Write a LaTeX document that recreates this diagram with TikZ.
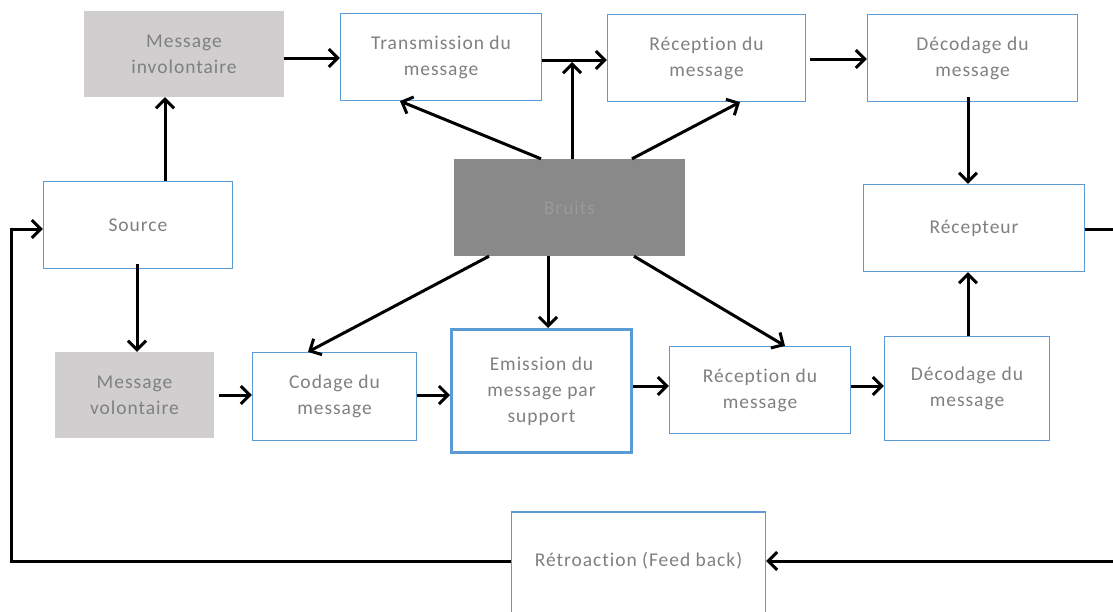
\documentclass[tikz,border=0pt]{standalone}
\usepackage{fontspec}
\setmainfont[LetterSpace=5,Ligatures=NoCommon]{Carlito}
\usetikzlibrary{arrows.meta}
\definecolor{bblue}{HTML}{5B9BD5}
\definecolor{lgray}{HTML}{D0CECE}
\definecolor{dgray}{HTML}{898989}
\definecolor{tgray}{HTML}{808080}
\definecolor{btgray}{HTML}{9A9A9A}
\begin{document}
\begin{tikzpicture}[x=1pt,y=-1pt,
  every node/.style={font=\fontsize{19.5}{26}\selectfont, text=tgray, align=center, inner sep=0pt},
  bluebox/.style={draw=bblue, line width=1.2pt, fill=white},
  thickbox/.style={draw=bblue, line width=3pt, fill=white},
  graybox/.style={fill=lgray},
  noisebox/.style={fill=dgray, text=btgray},
  arr/.style={line width=3pt, -{Straight Barb[length=9pt,width=18pt]}}]
\useasboundingbox (0,0) rectangle (1113,611);
\clip (0,0) rectangle (1113,611);
% nodes
\node[graybox, minimum width=200pt, minimum height=86pt] (minv) at (184,54) {Message\\involontaire};
\node[bluebox, minimum width=201pt, minimum height=87pt] (trans) at (441,57) {Transmission du\\message};
\node[bluebox, minimum width=198pt, minimum height=87pt] (rec1) at (706.5,58) {Réception du\\message};
\node[bluebox, minimum width=210pt, minimum height=87pt] (dec1) at (972.5,58) {Décodage du\\message};
\node[bluebox, minimum width=221pt, minimum height=87pt] (recept) at (974,228) {Récepteur};
\node[bluebox, minimum width=189pt, minimum height=87pt] (src) at (138,225) {Source};
\node[noisebox, minimum width=231pt, minimum height=97pt] (bruits) at (569.5,207.5) {Bruits};
\node[graybox, minimum width=159pt, minimum height=86pt] (mvol) at (134.5,395) {Message\\volontaire};
\node[bluebox, minimum width=164pt, minimum height=88pt] (codage) at (334.5,396.5) {Codage du\\message};
\node[thickbox, minimum width=180pt, minimum height=123pt] (emis) at (541.5,391) {Emission du\\message par\\support};
\node[bluebox, minimum width=181pt, minimum height=87pt] (rec2) at (760,390) {Réception du\\message};
\node[bluebox, minimum width=165pt, minimum height=104pt] (dec2) at (967,388.5) {Décodage du\\message};
\node[bluebox, minimum width=254pt, minimum height=110pt] (retro) at (638.5,567) {};
\node (retrotxt) at (638.5,561) {Rétroaction (Feed back)};
% connectors
\draw[arr] (src.north -| 165,0) -- (minv.south -| 165,0);
\draw[arr] ([yshift=5pt]src.south -| 137,0) -- (mvol.north -| 137,0);
\draw[arr] (minv.east |- 0,58) -- (trans.west |- 0,58);
\draw[arr] (trans.east |- 0,60) -- (rec1.west |- 0,60);
\draw[arr] (bruits.north -| 572,0) -- (572,62);
\draw[arr] ([xshift=4pt]rec1.east |- 0,59) -- (dec1.west |- 0,59);
\draw[arr] ([yshift=5pt]dec1.south -| 968,0) -- (recept.north -| 968,0);
\draw[arr] (dec2.north -| 968,0) -- (recept.south -| 968,0);
\draw[arr] (recept.east |- 0,229) -- (1135,229) -- (1135,561) -- (retro.east |- 0,561);
\draw[arr] (retro.west |- 0,561) -- (11,561) -- (11,229) -- (src.west |- 0,229);
\draw[arr] (bruits.north -| 541,0) -- (trans.south -| 400,0);
\draw[arr] (bruits.north -| 632,0) -- (rec1.south -| 740,0);
\draw[arr] (bruits.south -| 489,0) -- (codage.north -| 308,0);
\draw[arr] (bruits.south -| 548,0) -- (emis.north -| 548,0);
\draw[arr] (bruits.south -| 634,0) -- (rec2.north -| 785,0);
\draw[arr] ([xshift=5pt]mvol.east |- 0,395) -- (codage.west |- 0,395);
\draw[arr] (codage.east |- 0,395) -- (emis.west |- 0,395);
\draw[arr] (emis.east |- 0,386) -- (rec2.west |- 0,386);
\draw[arr] (rec2.east |- 0,386) -- (dec2.west |- 0,386);
\end{tikzpicture}
\end{document}
